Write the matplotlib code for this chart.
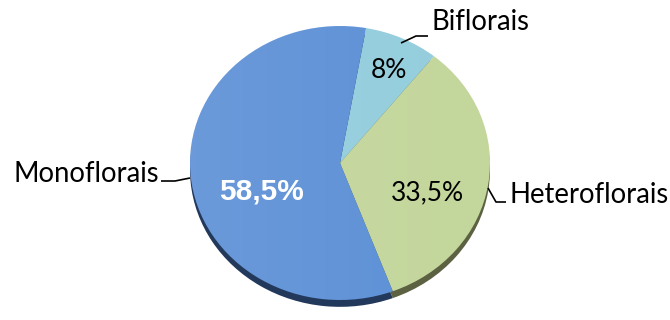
import matplotlib
matplotlib.use("Agg")
import matplotlib.pyplot as plt
import numpy as np

# Honey types by floral origin (share of samples, %)
categories = ["Biflorais", "Heteroflorais", "Monoflorais"]
values = [8.0, 33.5, 58.5]
top_colors = ["#93cddd", "#c3d69b", "#5b8fd6"]
side_colors = ["#4a6f78", "#5b6141", "#23395c"]

W, H = 670, 320
fig = plt.figure(figsize=(W / 100, H / 100), dpi=100)
ax = fig.add_axes([0, 0, 1, 1])

# pixel -> data helpers (pie centre and radii in pixels)
CX, CY, RX, RY = 340, 163, 150, 137
def px(x, y):
    return (x - CX) / RX, (CY - y) / RY

XL = (px(0, 0)[0], px(W, 0)[0])
YL = (px(0, H)[1], px(0, 0)[1])

start = 80  # first slice begins just right of 12 o'clock, going clockwise

# side of the tilted disc: darker copy shifted down
ax.pie(values, colors=side_colors, startangle=start, counterclock=False,
       center=(0, -0.05), radius=1.0, frame=True,
       wedgeprops=dict(linewidth=0))
# top face
wedges, _ = ax.pie(values, colors=top_colors, startangle=start,
                   counterclock=False, center=(0, 0), radius=1.0, frame=True,
                   wedgeprops=dict(linewidth=0))

# soft light sheen, brighter on the left side of the disc
grad = np.zeros((2, 256, 4))
grad[..., :3] = 1.0
grad[..., 3] = np.linspace(0.10, 0.0, 256)[None, :]
for w in wedges:
    im = ax.imshow(grad, extent=(-1, 1, -1, 1), aspect="auto",
                   interpolation="bilinear", zorder=w.get_zorder() + 0.1)
    im.set_clip_path(w)

ax.set_xlim(*XL)
ax.set_ylim(*YL)
ax.set_aspect("auto")
ax.axis("off")

def pct(v):
    return ("%g" % v).replace(".", ",") + "%"

label_font = "Lato"
# percentage labels
pct_pos = [(389, 70), (427, 193), (261, 192)]
for i, (v, (x, y)) in enumerate(zip(values, pct_pos)):
    if categories[i] == "Monoflorais":
        ax.text(*px(x, y), pct(v), ha="center", va="center", color="white",
                fontsize=21.5, fontweight="bold", family="Liberation Sans",
                zorder=5)
    else:
        ax.text(*px(x, y), pct(v), ha="center", va="center", color="black",
                fontsize=19, family=label_font, zorder=5)

# category labels with leader lines
cat_pos = {"Biflorais": (431, 22, "left"),
           "Heteroflorais": (509, 195, "left"),
           "Monoflorais": (159, 174, "right")}
for name, (x, y, ha) in cat_pos.items():
    ax.text(*px(x, y), name, ha=ha, va="center", color="black",
            fontsize=19.8, family=label_font)

leaders = {
    "Biflorais": [(401, 43), (416, 36), (428, 36)],
    "Heteroflorais": [(488, 188), (496, 202), (506, 202)],
    "Monoflorais": [(161, 181), (175, 181), (190, 178)],
}
for pts in leaders.values():
    xs, ys = zip(*[px(x, y) for x, y in pts])
    ax.plot(xs, ys, color="black", lw=1.2, solid_capstyle="butt", zorder=5)

fig.savefig("out.png", dpi=100)
